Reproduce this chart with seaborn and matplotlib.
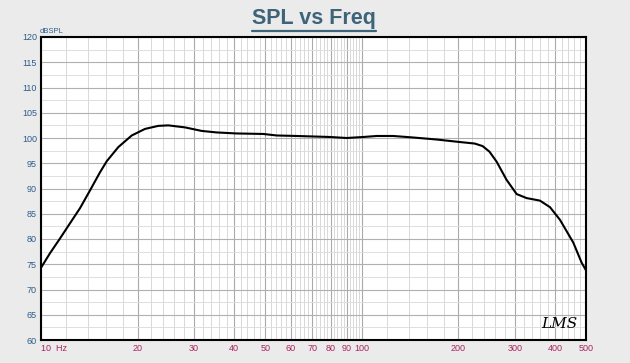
import matplotlib
matplotlib.use("Agg")
import matplotlib.pyplot as plt
import seaborn as sns
import numpy as np
import pandas as pd
from matplotlib.lines import Line2D

freq_hz = [10, 10.67, 11.46, 12.31, 13.23, 14.21, 15.27, 16.03, 17.42, 19.18, 21.1,
           23.21, 24.94, 28.11, 31.7, 35.3, 40.7, 49.3, 54.3, 62.7, 70.6, 79.6, 89.7,
           101.1, 111.3, 125.3, 144.7, 171.2, 202.3, 225.0, 238.0, 250.0, 263.3, 282.8,
           303.9, 326.5, 359.3, 386.1, 414.8, 456.3, 484.7, 500]
spl_db = [74.3, 77.2, 80.1, 83.1, 86.1, 89.6, 93.2, 95.4, 98.2, 100.5, 101.8,
          102.4, 102.5, 102.1, 101.4, 101.1, 100.9, 100.8, 100.5, 100.4, 100.3, 100.2, 100.0,
          100.2, 100.4, 100.4, 100.1, 99.7, 99.2, 98.9, 98.4, 97.3, 95.3, 91.7,
          88.9, 88.1, 87.6, 86.3, 83.8, 79.3, 75.3, 73.8]

x_major = [10, 20, 30, 40, 50, 60, 70, 80, 90, 100, 200, 300, 400, 500]
x_labels = ["10  Hz", "20", "30", "40", "50", "60", "70", "80", "90", "100", "200", "300", "400", "500"]
y_major = [60, 65, 70, 75, 80, 85, 90, 95, 100, 105, 110, 115, 120]

title = "SPL vs Freq"
y_unit = "dBSPL"

sns.set_theme(style="white")
plt.rcParams['font.family'] = ['Liberation Sans', 'DejaVu Sans']

bg = "#ebebeb"
fig = plt.figure(figsize=(6.30, 3.63), dpi=100, facecolor=bg)
ax = fig.add_axes([41/630, 1-340/363, 545/630, 303/363])
ax.set_facecolor("white")

df = pd.DataFrame({"freq": freq_hz, "spl": spl_db})
sns.lineplot(data=df, x="freq", y="spl", ax=ax, color="black", linewidth=1.5,
             sort=True, zorder=5)

ax.set_xscale("log")
ax.set_xlim(10, 500)
ax.set_ylim(60, 120)

x_minor = []
for dec in [10, 100]:
    for base in range(1, 10):
        for s in [0.2, 0.4, 0.6, 0.8]:
            v = (base + s) * dec
            if 10 < v < 500:
                x_minor.append(v)
y_minor = [v + 2.5 for v in y_major[:-1]]

ax.set_xticks(x_major)
ax.set_xticklabels(x_labels)
ax.set_xticks(x_minor, minor=True)
ax.set_yticks(y_major)
ax.set_yticks(y_minor, minor=True)
ax.xaxis.set_minor_formatter(matplotlib.ticker.NullFormatter())

ax.grid(which="major", axis="x", color="#aaaaaa", linewidth=0.8)
ax.grid(which="minor", axis="x", color="#d8d8d8", linewidth=0.7)
ax.grid(which="major", axis="y", color="#b0b0b0", linewidth=0.8)
ax.grid(which="minor", axis="y", color="#dedede", linewidth=0.7)
ax.set_axisbelow(True)

ax.tick_params(axis="both", which="both", length=0)
ax.tick_params(axis="x", labelsize=6.5, labelcolor="#a8245e", pad=3)
ax.tick_params(axis="y", labelsize=6.5, labelcolor="#2e5c8a", pad=3)
ax.get_xticklabels()[0].set_horizontalalignment("left")
ax.set_xlabel("")
ax.set_ylabel("")

for sp in ax.spines.values():
    sp.set_visible(True)
    sp.set_color("black")
    sp.set_linewidth(1.5)

fig.text(40/630, 1-35/363, y_unit, fontsize=5.5, color="#2e5c8a", ha="left", va="bottom")

t = fig.text(0.499, 1-8/363, title, fontsize=15.5, fontweight="bold", color="#3d6478",
             ha="center", va="top")
fig.canvas.draw()
bb = t.get_window_extent().transformed(fig.transFigure.inverted())
uy = bb.y0 - 1.5/363
fig.add_artist(Line2D([bb.x0, bb.x1], [uy, uy], color="#3d6478", linewidth=1.6,
                      transform=fig.transFigure))

ax.text(0.985, 0.03, "LMS", transform=ax.transAxes, fontsize=11, fontstyle="italic",
        family=["DejaVu Serif"], color="black", ha="right", va="bottom", zorder=6)

fig.savefig("out.png", dpi=100, facecolor=bg)
